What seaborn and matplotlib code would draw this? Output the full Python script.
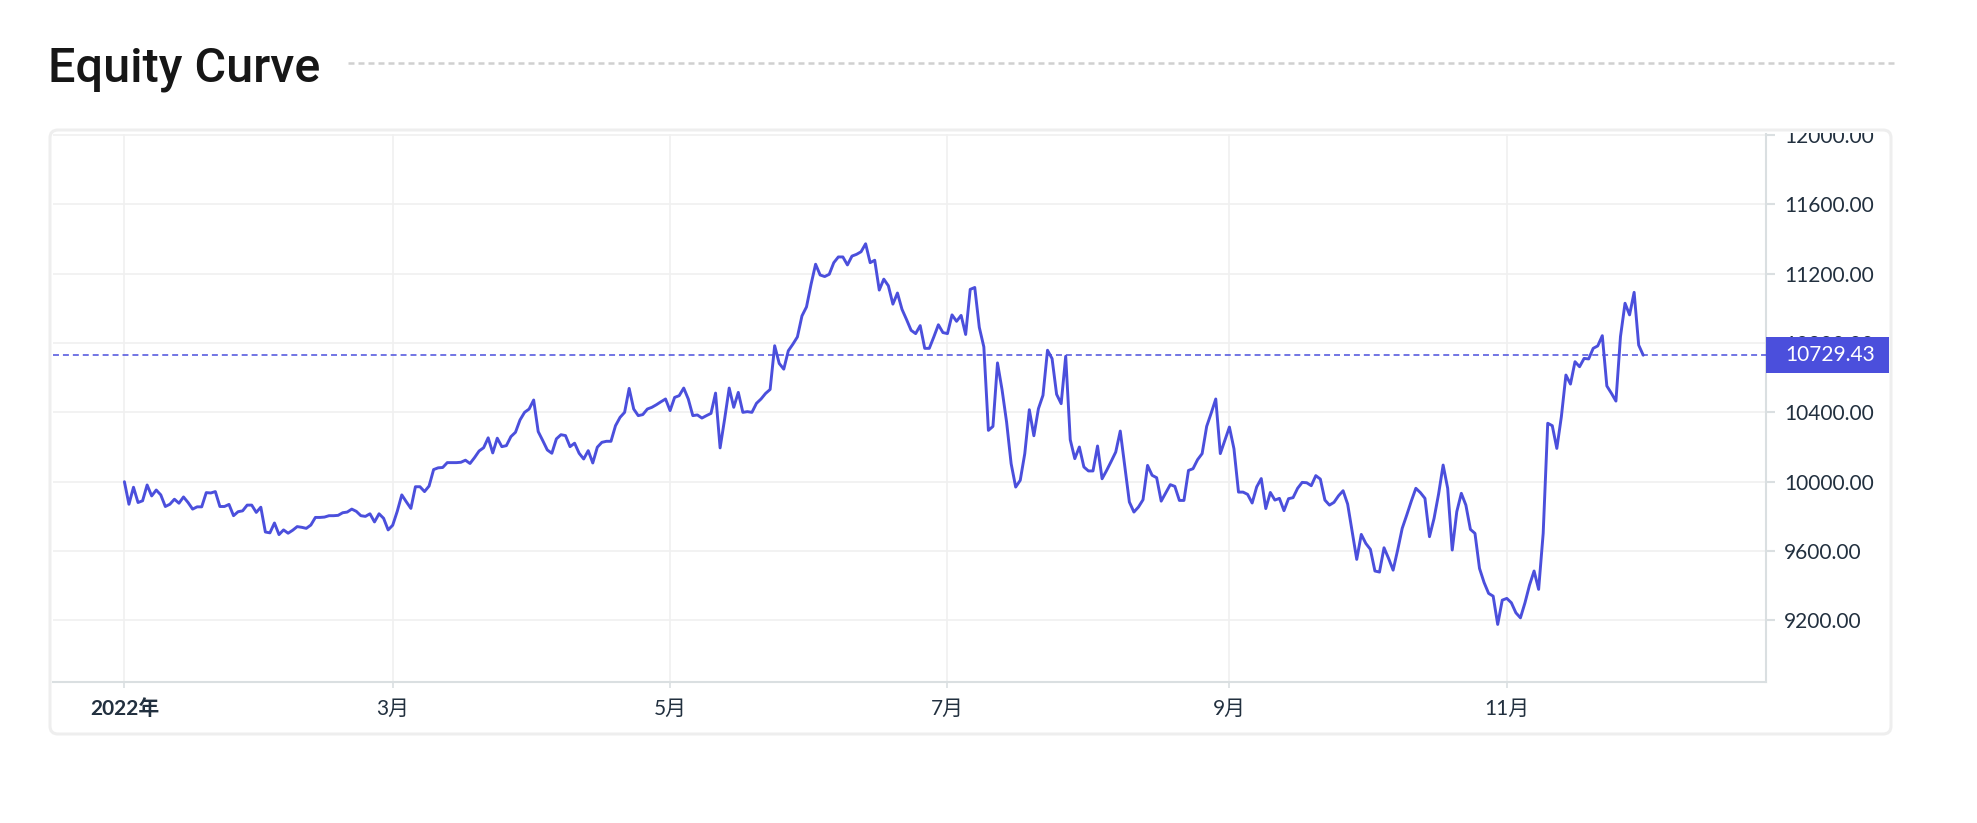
import numpy as np
import pandas as pd
import seaborn as sns
import matplotlib.pyplot as plt
import matplotlib.transforms as mtransforms
from matplotlib.patches import FancyBboxPatch, Rectangle
from matplotlib.lines import Line2D

# daily equity values (2022-01-01 .. 2022-12-01)
START = '2022-01-01'
equity_jan_feb = [10000, 9870, 9968, 9880, 9890, 9981, 9918, 9952, 9924, 9857,
                  9870, 9899, 9876, 9912, 9880, 9842, 9855, 9855, 9937, 9935,
                  9943, 9857, 9857, 9869, 9804, 9827, 9832, 9865, 9865, 9823,
                  9853, 9710, 9705, 9762, 9695, 9722, 9703, 9720, 9741, 9737,
                  9731, 9750, 9794, 9794, 9796, 9804, 9804, 9806, 9821, 9825,
                  9842, 9829, 9804, 9800, 9815, 9768, 9815, 9789, 9722]
equity_mar_apr = [9749, 9829, 9924, 9884, 9846, 9971, 9971, 9943, 9975, 10070,
                  10080, 10082, 10110, 10110, 10110, 10112, 10124, 10105, 10139, 10177,
                  10196, 10253, 10166, 10251, 10202, 10208, 10260, 10285, 10356, 10400,
                  10419, 10471, 10289, 10237, 10183, 10164, 10247, 10271, 10266, 10202,
                  10222, 10164, 10131, 10179, 10108, 10199, 10227, 10233, 10233, 10323,
                  10371, 10400, 10538, 10419, 10381, 10387, 10419, 10429, 10444, 10461,
                  10477]
equity_may_jun = [10410, 10486, 10496, 10540, 10477, 10381, 10385, 10367, 10381, 10394,
                  10511, 10195, 10362, 10540, 10429, 10515, 10400, 10404, 10400, 10452,
                  10477, 10509, 10532, 10784, 10682, 10649, 10755, 10793, 10835, 10956,
                  11008, 11138, 11254, 11192, 11183, 11196, 11263, 11296, 11296, 11250,
                  11301, 11311, 11326, 11372, 11263, 11277, 11105, 11168, 11130, 11024,
                  11088, 10994, 10935, 10873, 10854, 10900, 10769, 10769, 10835, 10905,
                  10860]
equity_jul_aug = [10854, 10962, 10925, 10959, 10849, 11109, 11120, 10890, 10777, 10296,
                  10319, 10685, 10531, 10344, 10104, 9969, 10008, 10162, 10415, 10265,
                  10421, 10498, 10758, 10710, 10504, 10450, 10723, 10242, 10133, 10200,
                  10085, 10062, 10062, 10206, 10017, 10065, 10117, 10171, 10292, 10085,
                  9883, 9825, 9854, 9896, 10094, 10037, 10023, 9888, 9935, 9983,
                  9973, 9892, 9892, 10065, 10075, 10127, 10162, 10319, 10396, 10477,
                  10162, 10238]
equity_sep_oct = [10315, 10190, 9940, 9940, 9927, 9877, 9970, 10018, 9845, 9938,
                  9894, 9904, 9833, 9902, 9908, 9962, 9996, 9994, 9977, 10035,
                  10015, 9894, 9865, 9881, 9919, 9948, 9871, 9712, 9552, 9696,
                  9644, 9610, 9485, 9479, 9619, 9558, 9490, 9606, 9731, 9808,
                  9888, 9962, 9937, 9904, 9683, 9788, 9929, 10096, 9962, 9606,
                  9827, 9933, 9865, 9725, 9702, 9500, 9419, 9356, 9340, 9177,
                  9317]
equity_nov = [9327, 9302, 9244, 9215, 9302, 9404, 9485, 9379, 9702, 10337,
              10323, 10192, 10375, 10615, 10563, 10692, 10663, 10711, 10708, 10769,
              10783, 10842, 10552, 10510, 10465, 10837, 11029, 10962, 11092, 10788,
              10729.43]

LAST_PRICE = 10729.43
MONTH_TICKS = ['2022-01-01', '2022-03-01', '2022-05-01', '2022-07-01', '2022-09-01', '2022-11-01']
MONTH_LABELS = ['2022年', '3月', '5月', '7月', '9月', '11月']
Y_TICKS = [9200, 9600, 10000, 10400, 10800, 11200, 11600, 12000]

LINE_COLOR = '#4b4fdc'
GRID_COLOR = '#f0f0f0'
AXIS_COLOR = '#dadfe1'
LABEL_COLOR = '#22303f'
W, H = 1977, 823

values = equity_jan_feb + equity_mar_apr + equity_may_jun + equity_jul_aug + equity_sep_oct + equity_nov
df = pd.DataFrame({
    'date': pd.date_range(START, periods=len(values), freq='D'),
    'equity': values,
})

sns.set_theme(style='white')
plt.rcParams['font.family'] = ['Lato', 'Noto Sans CJK SC', 'DejaVu Sans']

fig = plt.figure(figsize=(W / 100, H / 100), dpi=100)
fig.patch.set_facecolor('white')

# card behind the chart
card = FancyBboxPatch((50, H - 734), 1841, 604, boxstyle='round,pad=0,rounding_size=8',
                      transform=mtransforms.IdentityTransform(),
                      facecolor='white', edgecolor='#eeeeee', linewidth=2.2, zorder=-1)
fig.add_artist(card)

# title + dashed rule
fig.text(48 / W, 1 - 82 / H, 'Equity Curve', fontsize=35, family='Roboto', fontweight='medium',
         color='#161616', va='baseline', ha='left')
fig.add_artist(Line2D([348 / W, 1894 / W], [1 - 63 / H, 1 - 63 / H], transform=fig.transFigure,
                      color='#d0d0d0', linewidth=1.8, dashes=(2.4, 1.6)))

ax = fig.add_axes([53 / W, 1 - 682 / H, (1766 - 53) / W, (682 - 134) / H])
ax.set_facecolor('white')

sns.lineplot(data=df, x='date', y='equity', ax=ax, color=LINE_COLOR, linewidth=2.1, zorder=3)
ax.axhline(LAST_PRICE, color=LINE_COLOR, linewidth=1.1, linestyle=(0, (3.9, 2.6)), zorder=3)

start = pd.Timestamp(START)
ax.set_xlim(start - pd.Timedelta(days=15.7), start + pd.Timedelta(days=361))
ax.set_ylim(8845, 12005)

ax.set_xticks(pd.to_datetime(MONTH_TICKS), MONTH_LABELS)
ax.set_yticks(Y_TICKS, ['{:.2f}'.format(v) for v in Y_TICKS])
ax.yaxis.tick_right()
ax.set(xlabel='', ylabel='')

ax.grid(True, color=GRID_COLOR, linewidth=1.2)
ax.set_axisbelow(True)
for side in ['left', 'top']:
    ax.spines[side].set_visible(False)
for side in ['right', 'bottom']:
    ax.spines[side].set_color(AXIS_COLOR)
    ax.spines[side].set_linewidth(1.5)

ax.tick_params(axis='y', right=True, left=False, labelright=True, labelleft=False,
               length=6.7, width=1.5, color=AXIS_COLOR, pad=6.5,
               labelsize=15, labelcolor=LABEL_COLOR)
ax.tick_params(axis='x', bottom=True, length=4.5, width=1.2, color=AXIS_COLOR, pad=8,
               labelsize=15, labelcolor=LABEL_COLOR)
ax.get_xticklabels()[0].set_fontweight('bold')

# labels above the plot top are cut off, as in the original
clip = mtransforms.TransformedBbox(mtransforms.Bbox([[0, 0], [1, 1 - 133 / H]]), fig.transFigure)
for t in ax.yaxis.get_major_ticks():
    t.label2.set_clip_box(clip)
    t.label2.set_clip_on(True)

# last price tag on the price scale
blend = mtransforms.blended_transform_factory(ax.transAxes, ax.transData)
tag_trans = mtransforms.Affine2D() + mtransforms.ScaledTranslation(1, LAST_PRICE, blend)
ax.add_patch(Rectangle((0, -18), 123, 36, transform=tag_trans, facecolor=LINE_COLOR,
                       edgecolor='none', clip_on=False, zorder=5))
ax.text(0, 0, '{:.2f}'.format(LAST_PRICE), transform=mtransforms.Affine2D().translate(19, 0) + tag_trans,
        color='white', fontsize=15, va='center', ha='left', clip_on=False, zorder=6)

fig.savefig('out.png', dpi=100, facecolor='white')
